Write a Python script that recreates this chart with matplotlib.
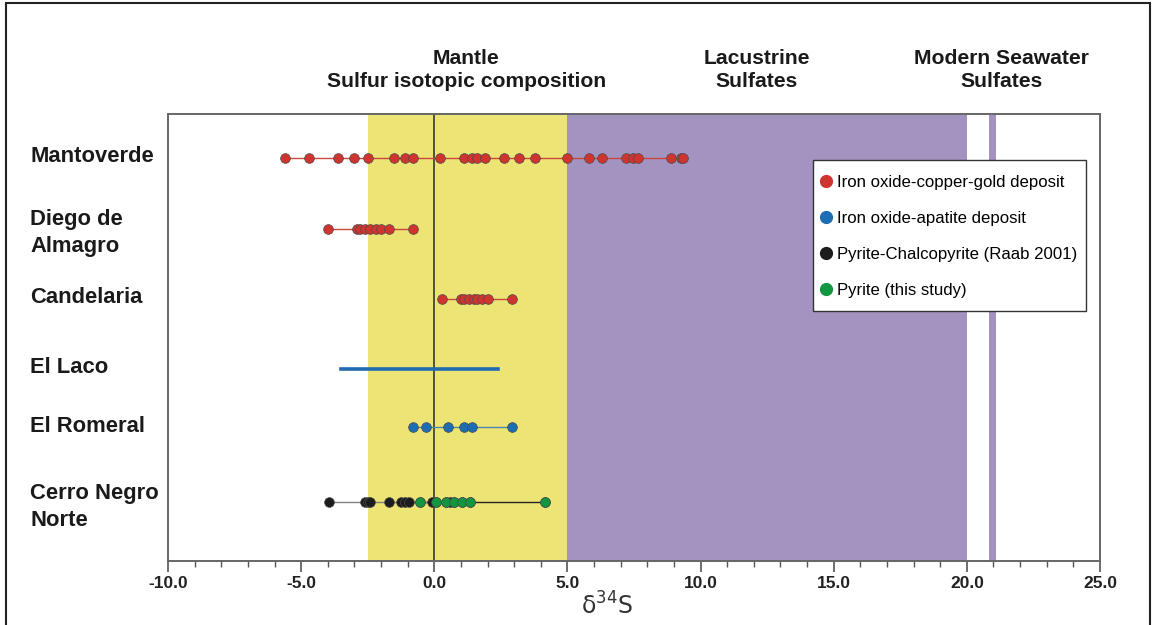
import numpy as np
import matplotlib
matplotlib.use('Agg')
import matplotlib.pyplot as plt
import matplotlib.transforms as mtransforms
from matplotlib.lines import Line2D
from matplotlib.patches import Rectangle
from matplotlib.ticker import MultipleLocator, FormatStrFormatter

# deposit names (top to bottom)
DEPOSITS = ['Mantoverde', 'Diego de\nAlmagro', 'Candelaria', 'El Laco', 'El Romeral', 'Cerro Negro\nNorte']

# d34S values
mantoverde = [-5.6, -4.7, -3.6, -3.0, -2.5, -1.5, -1.1, -0.8, 0.2, 1.1, 1.4, 1.6, 1.9,
              2.6, 3.2, 3.8, 5.0, 5.8, 6.3, 7.2, 7.45, 7.65, 8.9, 9.25, 9.35]
diego_almagro = [-4.0, -2.9, -2.8, -2.6, -2.4, -2.2, -2.0, -1.7, -0.8]
candelaria = [0.3, 1.0, 1.1, 1.3, 1.5, 1.6, 1.8, 2.0, 2.9]
el_laco_range = [-3.5, 2.4]
el_romeral = [-0.8, -0.3, 0.5, 1.1, 1.4, 2.9]
cnn_raab = [-3.95, -2.6, -2.5, -2.4, -1.7, -1.25, -1.1, -0.95, -0.1, 0.6]
cnn_this_study = [-0.55, 0.05, 0.45, 0.75, 1.05, 1.35, 4.15]

# reference ranges
mantle_range = [-2.5, 5.0]
lacustrine_range = [5.0, 20.0]
seawater_range = [20.85, 21.1]

# row positions on the y axis
ROW_Y = [1, 2, 3, 4, 4.83, 5.89]

RED = '#d0342f'
BLUE = '#1d6db3'
BLACK = '#1c1c1c'
GREEN = '#12963f'
YELLOW = '#ede476'
PURPLE = '#a393c0'

fig = plt.figure(figsize=(11.52, 6.25), dpi=100)
ax = fig.add_axes([168/1152, 1 - 561/625, 932/1152, 447/625])

ax.axvspan(*mantle_range, color=YELLOW, lw=0, zorder=0)
ax.axvspan(*lacustrine_range, color=PURPLE, lw=0, zorder=0)
ax.axvspan(*seawater_range, color=PURPLE, lw=0, zorder=0)
ax.axvline(0, color='#444444', lw=1.3, zorder=1)

mk = dict(marker='o', ms=7, mec='#4a4a4a', mew=0.5, zorder=3)

def series(vals, y, color, lcolor, lw=1.0):
    v = np.sort(vals)
    ax.plot(v, [y] * len(v), color=lcolor, lw=lw, zorder=2)
    ax.plot(v, [y] * len(v), ls='none', mfc=color, **mk)

series(mantoverde, ROW_Y[0], RED, '#c9483c')
series(diego_almagro, ROW_Y[1], RED, '#c9483c')
series(candelaria, ROW_Y[2], RED, '#c9483c')
ax.plot(el_laco_range, [ROW_Y[3]] * 2, color='#1f6ab0', lw=2.6, zorder=2)
series(el_romeral, ROW_Y[4], BLUE, '#4f86ad')
series(cnn_this_study, ROW_Y[5], GREEN, '#222222')
series(cnn_raab, ROW_Y[5], BLACK, '#808080')
ax.plot(np.sort(cnn_this_study), [ROW_Y[5]] * len(cnn_this_study), ls='none', mfc=GREEN, **mk)

ax.set_xlim(-10, 25)
ax.set_ylim(6.729, 0.371)
ax.set_yticks([])
ax.xaxis.set_major_locator(MultipleLocator(5))
ax.xaxis.set_minor_locator(MultipleLocator(1))
ax.xaxis.set_major_formatter(FormatStrFormatter('%.1f'))
ax.tick_params(axis='x', which='major', length=8, width=1.2, color='#555555', pad=3)
ax.tick_params(axis='x', which='minor', length=4, width=1.0, color='#555555')
for lab in ax.get_xticklabels():
    lab.set_family(['Liberation Sans Narrow', 'Liberation Sans'])
    lab.set_fontweight('bold')
    lab.set_fontsize(12.5)
    lab.set_color('#222222')
for sp in ax.spines.values():
    sp.set_color('#666666')
    sp.set_linewidth(1.4)

ax.text(6.5, -0.07, r'$\mathregular{\delta^{34}}$S', transform=mtransforms.blended_transform_factory(ax.transData, ax.transAxes),
        ha='center', va='top', fontsize=17, color='#333333', family='DejaVu Sans')

# deposit names on the left
lab_tr = mtransforms.blended_transform_factory(fig.transFigure, ax.transData)
for name, y in zip(DEPOSITS, ROW_Y):
    # single-line names sit a little above the row, two-line names a little below
    dy = 0.07 if '\n' in name else -0.02
    ax.text(30/1152, y + dy, name, transform=lab_tr, ha='left', va='center', fontsize=15.8,
            fontweight='bold', family='Liberation Sans', color='#1a1a1a', linespacing=1.38)

# headers above the ranges
hdr_tr = mtransforms.blended_transform_factory(ax.transData, fig.transFigure)
headers = [(1.2, 'Mantle\nSulfur isotopic composition'),
           (12.1, 'Lacustrine\nSulfates'),
           (21.3, 'Modern Seawater\nSulfates')]
for x, txt in headers:
    ax.text(x, 1 - 70/625, txt, transform=hdr_tr, ha='center', va='center', fontsize=15.2,
            fontweight='bold', family='Liberation Sans', color='#1a1a1a', linespacing=1.3)

handles = [Line2D([], [], ls='none', marker='o', ms=8.5, mfc=c, mec=c)
           for c in [RED, BLUE, BLACK, GREEN]]
labels = ['Iron oxide-copper-gold deposit', 'Iron oxide-apatite deposit',
          'Pyrite-Chalcopyrite (Raab 2001)', 'Pyrite (this study)']
leg = fig.legend(handles, labels, loc='upper left', bbox_to_anchor=(820/1152, 1 - 175/625),
                 frameon=False, prop={'family': 'Liberation Sans', 'size': 12.1},
                 labelspacing=1.25, handlelength=0.7, handletextpad=0.3,
                 borderpad=0, borderaxespad=0)
# legend box drawn separately so its padding matches the original
fig.patches.append(Rectangle((813/1152, 1 - 311/625), 273/1152, 151/625, transform=fig.transFigure,
                             fc='white', ec='#333333', lw=1.0, zorder=4))
leg.set_zorder(5)

# outer frame of the figure
fig.patches.append(Rectangle((6/1152, -0.1), 1144/1152, 1.1 - 3/625, transform=fig.transFigure,
                             fill=False, ec='#222222', lw=1.5))

fig.savefig('out.png', dpi=100)
